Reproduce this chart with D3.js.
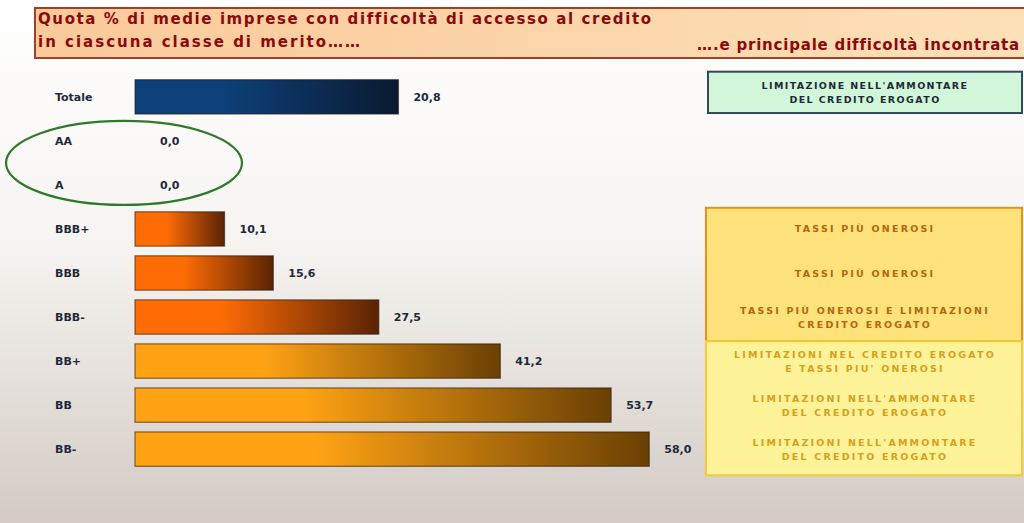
<!DOCTYPE html>
<html>
<head>
<meta charset="utf-8">
<script src="https://cdn.jsdelivr.net/npm/d3@7"></script>
<style>
  body { margin: 0; background: #fff; }
  svg { display: block; font-family: "DejaVu Sans", sans-serif; }
</style>
</head>
<body>
<script>
// data
const categories = ["Totale", "AA", "A", "BBB+", "BBB", "BBB-", "BB+", "BB", "BB-"];
const values = [20.8, 0.0, 0.0, 10.1, 15.6, 27.5, 41.2, 53.7, 58.0];
const groups = ["tot", "a", "a", "bbb", "bbb", "bbb", "bb", "bb", "bb"];
const difficulties = [
  ["LIMITAZIONE NELL'AMMONTARE", "DEL CREDITO EROGATO"],
  null,
  null,
  ["TASSI PIÙ ONEROSI"],
  ["TASSI PIÙ ONEROSI"],
  ["TASSI PIÙ ONEROSI E LIMITAZIONI", "CREDITO EROGATO"],
  ["LIMITAZIONI NEL CREDITO EROGATO", "E TASSI PIU' ONEROSI"],
  ["LIMITAZIONI NELL'AMMONTARE", "DEL CREDITO EROGATO"],
  ["LIMITAZIONI NELL'AMMONTARE", "DEL CREDITO EROGATO"]
];
const titleLines = ["Quota % di medie imprese con difficoltà di accesso al credito",
                    "in ciascuna classe di merito……"];
const titleRight = "….e principale difficoltà incontrata";

const width = 1024, height = 523;
const svg = d3.select("body").append("svg")
  .attr("width", width)
  .attr("height", height);

const defs = svg.append("defs");

// background
const bg = defs.append("linearGradient").attr("id", "bg")
  .attr("x1", 0).attr("y1", 0).attr("x2", 0).attr("y2", 1);
bg.append("stop").attr("offset", "0%").attr("stop-color", "#ffffff");
bg.append("stop").attr("offset", "45%").attr("stop-color", "#f7f5f2");
bg.append("stop").attr("offset", "100%").attr("stop-color", "#d3cbc4");
svg.append("rect").attr("width", width).attr("height", height).attr("fill", "url(#bg)");

// bar gradients
const barColors = {
  tot: ["#0d3f78", "#0a1a30"],
  bbb: ["#ff6c05", "#5a2304"],
  bb: ["#ffa314", "#6a4004"],
  a: ["#ffffff", "#ffffff"]
};
Object.keys(barColors).forEach(k => {
  const g = defs.append("linearGradient").attr("id", "g-" + k)
    .attr("x1", 0).attr("y1", 0).attr("x2", 1).attr("y2", 0);
  g.append("stop").attr("offset", "0%").attr("stop-color", barColors[k][0]);
  g.append("stop").attr("offset", "35%").attr("stop-color", barColors[k][0]);
  g.append("stop").attr("offset", "100%").attr("stop-color", barColors[k][1]);
});

// title box
const tg = defs.append("linearGradient").attr("id", "titleg")
  .attr("x1", 0).attr("y1", 0).attr("x2", 1).attr("y2", 0);
tg.append("stop").attr("offset", "0%").attr("stop-color", "#fbc99a");
tg.append("stop").attr("offset", "100%").attr("stop-color", "#fde0b8");
svg.append("rect")
  .attr("x", 35).attr("y", 8).attr("width", 995).attr("height", 50)
  .attr("fill", "url(#titleg)")
  .attr("stroke", "#a0402a").attr("stroke-width", 2);

svg.selectAll(".title")
  .data(titleLines)
  .enter().append("text")
  .attr("x", 38)
  .attr("y", (d, i) => 24 + i * 23)
  .attr("fill", "#8a0a0a")
  .attr("font-weight", "bold")
  .attr("font-size", 15)
  .attr("letter-spacing", (d, i) => i === 0 ? 1.6 : 2.0)
  .text(d => d);

svg.append("text")
  .attr("x", 1020).attr("y", 50)
  .attr("text-anchor", "end")
  .attr("fill", "#8a0a0a")
  .attr("font-weight", "bold")
  .attr("font-size", 15)
  .attr("letter-spacing", 0.8)
  .text(titleRight);

// scales
const y = d3.scaleBand()
  .domain(categories)
  .range([70, 476])
  .padding(0.22);

const x = d3.scaleLinear().domain([0, 60]).range([135, 667]);
const xTot = d3.scaleLinear().domain([0, 42]).range([135, 667]);
const xFor = (d, i) => i === 0 ? xTot : x;

const fmt = v => d3.format(".1f")(v).replace(".", ",");

// green ellipse round AA / A
const yAA = y("AA") + y.bandwidth() / 2, yA = y("A") + y.bandwidth() / 2;
svg.append("ellipse")
  .attr("cx", 124).attr("cy", (yAA + yA) / 2)
  .attr("rx", 118).attr("ry", 42)
  .attr("fill", "none")
  .attr("stroke", "#2f7a2a").attr("stroke-width", 2.2);

// bars
const rows = categories.map((c, i) => ({ c, v: values[i], g: groups[i], i }));

svg.selectAll(".bar")
  .data(rows.filter(d => d.v > 0))
  .enter().append("rect")
  .attr("class", "bar")
  .attr("x", d => xFor(d, d.i)(0))
  .attr("y", d => y(d.c))
  .attr("width", d => xFor(d, d.i)(d.v) - xFor(d, d.i)(0))
  .attr("height", y.bandwidth())
  .attr("fill", d => "url(#g-" + d.g + ")")
  .attr("stroke", "#2a1a10")
  .attr("stroke-opacity", 0.6)
  .attr("stroke-width", 1.2);

// category labels
svg.selectAll(".cat")
  .data(rows)
  .enter().append("text")
  .attr("x", 55)
  .attr("y", d => y(d.c) + y.bandwidth() / 2 + 4)
  .attr("fill", "#1c2a3c")
  .attr("font-weight", "bold")
  .attr("font-size", 11)
  .text(d => d.c);

// value labels
svg.selectAll(".val")
  .data(rows)
  .enter().append("text")
  .attr("x", d => xFor(d, d.i)(d.v) + (d.v > 0 ? 15 : 25))
  .attr("y", d => y(d.c) + y.bandwidth() / 2 + 4)
  .attr("fill", "#1c2a3c")
  .attr("font-weight", "bold")
  .attr("font-size", 11)
  .text(d => fmt(d.v));

// difficulty boxes
function box(y0, y1, fill, stroke, x0) {
  svg.append("rect")
    .attr("x", x0).attr("y", y0)
    .attr("width", 1022 - x0).attr("height", y1 - y0)
    .attr("fill", fill).attr("stroke", stroke).attr("stroke-width", 2);
}
box(y("Totale") - 8, y("Totale") + y.bandwidth() - 1, "#d2f6da", "#34485a", 708);
box(y("BBB+") - 4, y("BBB-") + y.bandwidth() + 7, "#ffe27a", "#e8901e", 706);
box(y("BBB-") + y.bandwidth() + 7, y("BB-") + y.bandwidth() + 9, "#fff39a", "#f2c93a", 706);

const textColor = g => g === "tot" ? "#1e2a36" : g === "bbb" ? "#b4660e" : "#d6a01a";

rows.forEach(d => {
  const lines = difficulties[d.i];
  if (!lines) return;
  const cy = y(d.c) + y.bandwidth() / 2 - (d.i === 0 ? 4 : 0);
  svg.append("g").selectAll("text")
    .data(lines)
    .enter().append("text")
    .attr("x", 865)
    .attr("y", (l, j) => cy + 3.5 + (j - (lines.length - 1) / 2) * 14)
    .attr("text-anchor", "middle")
    .attr("fill", textColor(d.g))
    .attr("font-weight", "bold")
    .attr("font-size", 9.5)
    .attr("letter-spacing", d.i === 0 ? 1.4 : 2.2)
    .text(l => l);
});
</script>
</body>
</html>
